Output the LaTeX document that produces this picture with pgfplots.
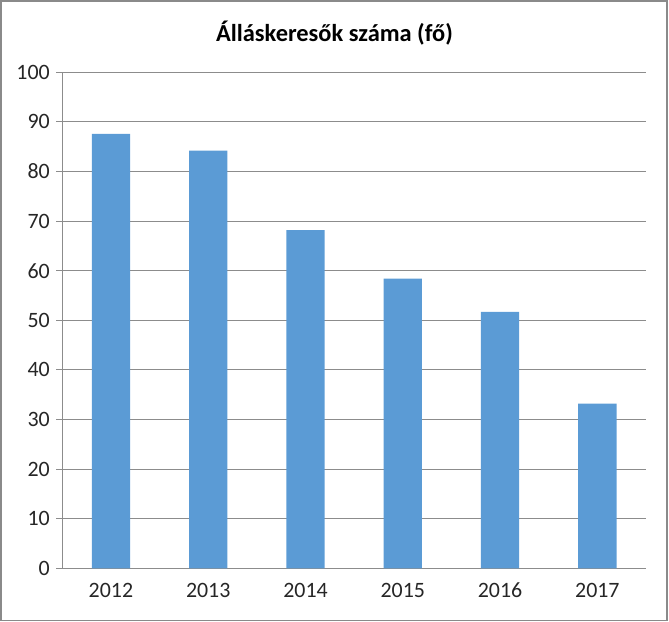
\documentclass[border=0pt]{standalone}
\usepackage{pgfplots}
\pgfplotsset{compat=1.18}
\usepackage{fontspec}
\setmainfont{Carlito}
\definecolor{barblue}{HTML}{5B9BD5}
\definecolor{gridgray}{HTML}{8C8C8C}
\definecolor{framegray}{HTML}{8A8A8A}

\begin{document}
\begin{tikzpicture}
\begin{axis}[
    at={(0,0)}, anchor=south west,
    scale only axis,
    width=583.7bp, height=496bp,
    xmin=-0.5, xmax=5.5,
    ymin=0, ymax=100,
    xtick={0,1,2,3,4,5},
    xticklabels={2012,2013,2014,2015,2016,2017},
    x tick style={draw=none},
    extra x ticks={-0.5,0.5,1.5,2.5,3.5,4.5,5.5},
    extra x tick labels={},
    extra x tick style={tick style={draw=gridgray, line width=0.8bp}, major tick length=6bp, tick align=outside, grid=none},
    ytick={0,10,...,100},
    ymajorgrids,
    grid style={gridgray, line width=0.9bp},
    y tick style={gridgray, line width=0.8bp},
    major tick length=6bp,
    tick align=outside,
    tick pos=left,
    axis x line*=bottom,
    axis y line*=left,
    axis line style={gridgray, line width=0.9bp, -},
    ticklabel style={font=\fontsize{22}{24}\selectfont, text=black!85},
    /pgf/number format/assume math mode=true,
    yticklabel style={xshift=-3bp},
    xticklabel style={yshift=-5bp},
    bar width=0.394,
    ybar, bar shift=0pt,
]
\addplot[fill=barblue, draw=none] coordinates {
    (0,87.6) (1,84.2) (2,68.2) (3,58.4) (4,51.7) (5,33.2)
};
\end{axis}
\node[font=\bfseries\fontsize{24.5}{28}\selectfont, text=black] at (272.2bp,535bp) {Álláskeresők száma (fő)};
\draw[framegray, line width=1.5bp] (-61.3bp,-52.2bp) rectangle (604.7bp,567.3bp);
\useasboundingbox (-62.3bp,-53.7bp) rectangle (606.7bp,568.3bp);
\end{tikzpicture}
\end{document}
